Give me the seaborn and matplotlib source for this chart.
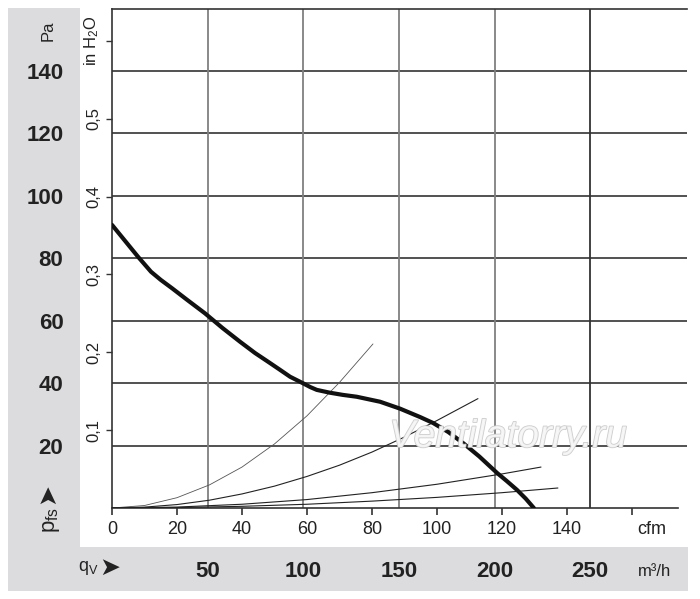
import matplotlib
matplotlib.use("Agg")
import matplotlib.pyplot as plt
import matplotlib.patheffects as pe
from matplotlib.patches import Rectangle
import pandas as pd
import seaborn as sns

# fan curve (cfm, Pa)
fan_cfm = [0, 4, 8, 12, 15, 18.5, 23, 28.6, 34, 39.4, 44, 48.6, 52, 54.8, 58.8, 61,
           63, 67, 71, 75.3, 82.5, 88.6, 94.8, 98.8, 103.5, 108, 113, 118.5, 121.5,
           124.6, 127.3, 129.8]
fan_pa = [90.6, 85.5, 80.4, 75.6, 73.0, 70.3, 66.7, 62.3, 57.6, 53.2, 49.6, 46.4, 44.0,
          42.0, 39.9, 38.7, 37.8, 36.9, 36.2, 35.6, 34.0, 31.8, 29.1, 27.2, 24.3, 20.8,
          16.5, 11.2, 8.6, 5.8, 3.0, 0.0]

# system resistance curves (cfm, Pa)
sys1_cfm = [0, 10, 20, 30, 40, 50, 60, 70, 80.3]
sys1_pa = [0, 0.8, 3.3, 7.4, 13.1, 20.5, 29.5, 40.2, 52.5]
sys2_cfm = [0, 10, 20, 30, 40, 50, 60, 70, 80, 90, 100, 112.6]
sys2_pa = [0, 0.28, 1.1, 2.5, 4.5, 7.0, 10.1, 13.7, 17.9, 22.7, 28.0, 35.0]
sys3_cfm = [0, 20, 40, 60, 80, 100, 120, 132]
sys3_pa = [0, 0.3, 1.2, 2.7, 4.9, 7.6, 10.9, 13.1]
sys4_cfm = [0, 20, 40, 60, 80, 100, 120, 137.2]
sys4_pa = [0, 0.14, 0.54, 1.2, 2.2, 3.4, 4.9, 6.4]

pa_ticks = [20, 40, 60, 80, 100, 120, 140]
inh2o_ticks = [0.1, 0.2, 0.3, 0.4, 0.5, 0.6]
inh2o_labels = ["0,1", "0,2", "0,3", "0,4", "0,5", "in H$_2$O"]
cfm_ticks = [0, 20, 40, 60, 80, 100, 120, 140, 160]
cfm_labels = ["0", "20", "40", "60", "80", "100", "120", "140", ""]
m3h_ticks = [50, 100, 150, 200, 250]

PA_PER_INH2O = 249.09
M3H_PER_CFM = 1.699

sns.set_theme(style="white")
plt.rcParams["font.family"] = ["Liberation Sans Narrow", "Liberation Sans", "DejaVu Sans"]
plt.rcParams["mathtext.fontset"] = "custom"
plt.rcParams["mathtext.rm"] = "Liberation Sans"
plt.rcParams["mathtext.it"] = "Liberation Sans"

W, H = 700, 599
fig = plt.figure(figsize=(W / 100, H / 100), dpi=100)

grey = "#dcdcde"
fig.add_artist(Rectangle((8 / W, 1 - 591 / H), 72 / W, 583 / H, transform=fig.transFigure,
                         color=grey, zorder=0, lw=0))
fig.add_artist(Rectangle((8 / W, 1 - 591 / H), 680 / W, 44 / H, transform=fig.transFigure,
                         color=grey, zorder=0, lw=0))

ax = fig.add_axes([112 / W, 1 - 508 / H, (687 - 112) / W, (508 - 9) / H])
ax.set_xlim(0, (687 - 112) / 3.25)
ax.set_ylim(0, (508 - 9) / 3.125)

dark = "#333333"
for p in pa_ticks:
    ax.axhline(p, color=dark, lw=1.2, zorder=1)
for i, m in enumerate(m3h_ticks):
    ax.axvline(m / M3H_PER_CFM, color=dark if i == len(m3h_ticks) - 1 else "#808080",
               lw=1.3, zorder=1)

for cx, cy, col, lw in [(sys1_cfm, sys1_pa, "#555555", 0.6),
                        (sys2_cfm, sys2_pa, "#222222", 0.8),
                        (sys3_cfm, sys3_pa, "#222222", 0.8),
                        (sys4_cfm, sys4_pa, "#222222", 0.8)]:
    sns.lineplot(data=pd.DataFrame({"q": cx, "p": cy}), x="q", y="p", ax=ax,
                 color=col, lw=lw, sort=False, zorder=3)

sns.lineplot(data=pd.DataFrame({"q": fan_cfm, "p": fan_pa}), x="q", y="p", ax=ax,
             color="#111111", lw=3.0, sort=False, zorder=4, clip_on=True)

ax.set_xlabel("")
ax.set_ylabel("")
for s in ["left", "bottom", "top"]:
    ax.spines[s].set_color(dark)
    ax.spines[s].set_linewidth(1.2)
ax.spines["right"].set_visible(False)
ax.spines["bottom"].set_bounds(0, (678 - 112) / 3.25)

# Pa labels in the grey band
ax.set_yticks(pa_ticks)
ax.set_yticklabels([str(p) for p in pa_ticks], fontsize=16, fontweight="bold", color="#222222")
ax.tick_params(axis="y", length=0, pad=35)

# cfm ticks
ax.set_xticks(cfm_ticks)
ax.set_xticklabels(cfm_labels, fontsize=13, color="#222222")
ax.tick_params(axis="x", direction="out", length=5, width=1.2, color=dark, pad=4, bottom=True)

# in H2O secondary scale
sec = ax.secondary_yaxis("left", functions=(lambda p: p / PA_PER_INH2O,
                                            lambda v: v * PA_PER_INH2O))
sec.set_yticks(inh2o_ticks)
sec.set_yticklabels(inh2o_labels, fontsize=12, color="#222222")
sec.tick_params(axis="y", direction="out", length=4, width=1.0, color=dark, pad=4,
                labelrotation=90, left=True)
sec.spines["left"].set_visible(False)
for lab in sec.get_yticklabels():
    lab.set_va("center")

# m3/h scale in the bottom grey band
sec2 = ax.secondary_xaxis("bottom", functions=(lambda c: c * M3H_PER_CFM,
                                               lambda m: m / M3H_PER_CFM))
sec2.set_xticks(m3h_ticks)
sec2.set_xticklabels([str(m) for m in m3h_ticks], fontsize=16, fontweight="bold",
                     color="#222222")
sec2.tick_params(axis="x", length=0, pad=38)
sec2.spines["bottom"].set_visible(False)

def ftext(x, y, s, **kw):
    fig.text(x / W, 1 - y / H, s, color="#222222", **kw)

ftext(652, 530, "cfm", fontsize=13, ha="center", va="center")
ftext(655, 572, "m³/h", fontsize=12, ha="center", va="center")
ftext(48, 31, "Pa", fontsize=12, ha="center", va="center", rotation=90)
ftext(88, 568, "q$_{\\mathregular{V}}$", fontsize=13, ha="center", va="center")
ftext(110, 568, "➤", fontsize=18, ha="center", va="center",
      family=["DejaVu Sans"])
ftext(51, 520, "p$_{\\mathregular{fs}}$", fontsize=16, ha="center", va="center", rotation=90)
ftext(47, 494, "➤", fontsize=18, ha="center", va="center", rotation=90,
      family=["DejaVu Sans"])

wm = fig.text(508 / W, 1 - 437 / H, "Ventilatorry.ru", fontsize=28, style="italic",
              ha="center", va="center", color="#f7f7f7", alpha=0.9, zorder=10,
              family=["Liberation Sans", "DejaVu Sans"])
wm.set_path_effects([pe.withStroke(linewidth=1.2, foreground="#c8c8c8")])

fig.savefig("out.png", dpi=100)
